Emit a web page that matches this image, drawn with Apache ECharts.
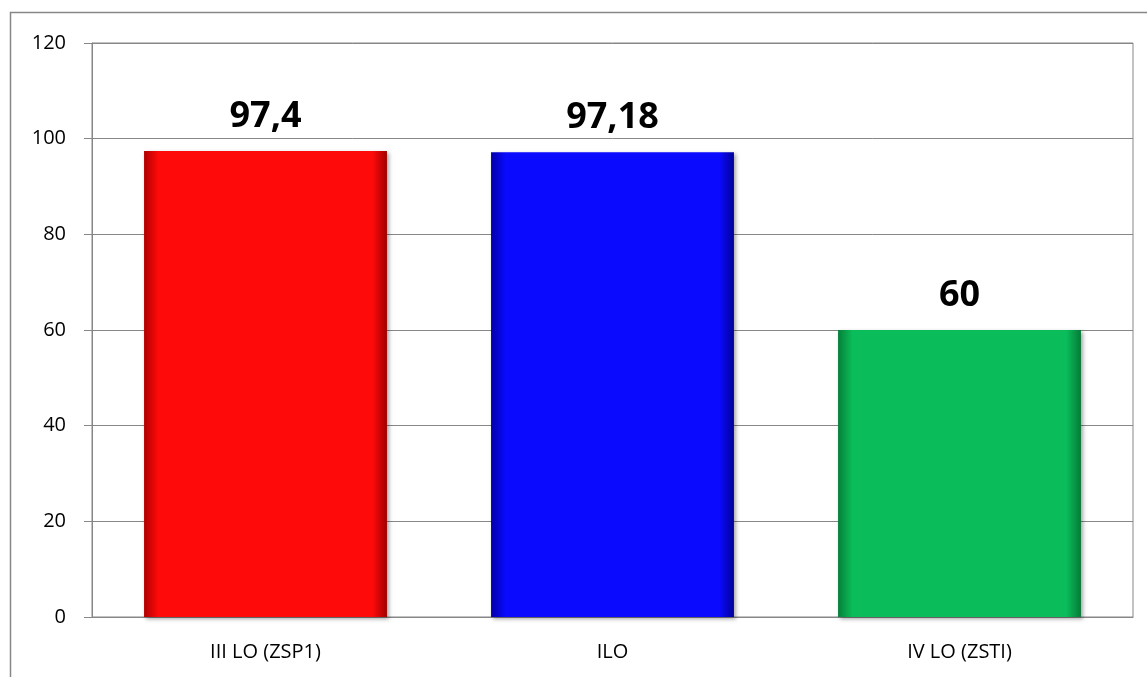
<!DOCTYPE html>
<html>
<head>
<meta charset="utf-8">
<script src="https://cdn.jsdelivr.net/npm/echarts@6/dist/echarts.min.js"></script>
<style>
  html, body { margin: 0; padding: 0; background: #fff; }
  #chart { width: 1147px; height: 677px; }
</style>
</head>
<body>
<div id="chart"></div>
<script>
// dane wykresu
const categories = ["III LO (ZSP1)", "ILO", "IV LO (ZSTI)"];
const values = [97.4, 97.18, 60];
const barColors = [
  ["#b00000", "#ff0a0a", "#a00000"],
  ["#0000a8", "#0a0aff", "#000098"],
  ["#06803a", "#0abd5a", "#067a38"],
];

const chart = echarts.init(document.getElementById("chart"));

const gradient = (c) => ({
  type: "linear", x: 0, y: 0, x2: 1, y2: 0,
  colorStops: [
    { offset: 0, color: c[0] },
    { offset: 0.06, color: c[1] },
    { offset: 0.94, color: c[1] },
    { offset: 1, color: c[2] },
  ],
});

const option = {
  animation: false,
  graphic: [
    {
      type: "rect",
      shape: { x: 10.5, y: 12.5, width: 1200, height: 700 },
      style: { fill: "none", stroke: "#878787", lineWidth: 1.5 },
      z: 0,
    },
  ],
  grid: {
    left: 92, right: 14, top: 43, bottom: 60,
    show: true,
    borderColor: "#878787",
    borderWidth: 1,
  },
  xAxis: {
    type: "category",
    data: categories,
    axisLine: { lineStyle: { color: "#878787", width: 1 } },
    axisTick: { length: 8, lineStyle: { color: "#878787" } },
    axisLabel: {
      color: "#000", fontSize: 20, margin: 25,
      fontFamily: "Open Sans, Noto Sans, sans-serif",
    },
  },
  yAxis: {
    type: "value",
    min: 0, max: 120, interval: 20,
    axisLine: { show: true, lineStyle: { color: "#878787", width: 1 } },
    axisTick: { show: true, length: 8, lineStyle: { color: "#878787" } },
    splitLine: { lineStyle: { color: "#878787", width: 1 } },
    axisLabel: {
      color: "#000", fontSize: 20, margin: 26,
      fontFamily: "Open Sans, Noto Sans, sans-serif",
    },
  },
  series: [
    {
      type: "bar",
      barWidth: "70%",
      data: values.map((v, i) => ({
        value: v,
        itemStyle: {
          color: gradient(barColors[i]),
          shadowColor: "rgba(0,0,0,0.35)",
          shadowBlur: 4,
          shadowOffsetX: 2,
          shadowOffsetY: 2,
        },
      })),
      label: {
        show: true,
        position: "top",
        distance: 16,
        color: "#000",
        fontSize: 36,
        fontWeight: "bold",
        fontFamily: "Open Sans, Noto Sans, sans-serif",
        formatter: (p) => String(p.value).replace(".", ","),
      },
    },
  ],
};

chart.setOption(option);
</script>
</body>
</html>
